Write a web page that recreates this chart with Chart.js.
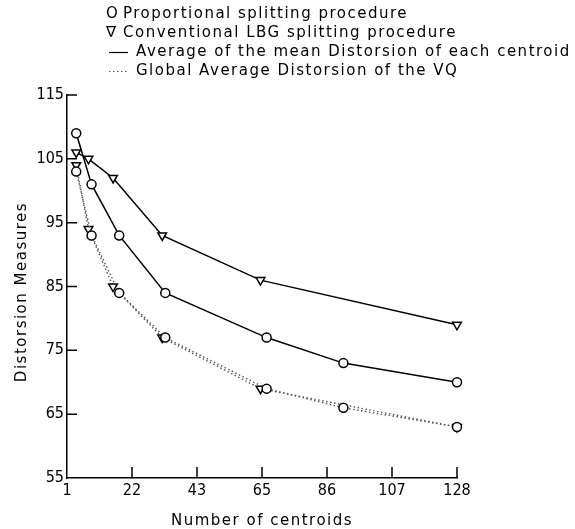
<!DOCTYPE html>
<html>
<head>
<meta charset="utf-8">
<script src="https://cdn.jsdelivr.net/npm/chart.js@4.4.1/dist/chart.umd.min.js"></script>
<style>
  html, body { margin: 0; padding: 0; background: #fff; }
  #wrap { width: 575px; height: 529px; }
</style>
</head>
<body>
<div id="wrap"><canvas id="c"></canvas></div>
<script>
// number of centroids at each measured point
const propX = [4, 9, 18, 33, 66, 91, 128];
const convX = [4, 8, 16, 32, 64, 128];
// average of the mean distorsion of each centroid (solid lines)
const propMean = [109, 101, 93, 84, 77, 73, 70];
const convMean = [106, 105, 102, 93, 86, 79];
// global average distorsion of the VQ (dotted lines)
const propGlobal = [103, 93, 84, 77, 69, 66, 63];
const convGlobal = [104, 94, 85, 77, 69, 63];

const xTickLabels = ['1', '22', '43', '65', '86', '107', '128'];
const legendLabels = [
  'Proportional splitting procedure',
  'Conventional LBG splitting procedure',
  'Average of the mean Distorsion of each centroid',
  'Global Average Distorsion of the VQ'
];
const xTitle = 'Number of centroids';
const yTitle = 'Distorsion Measures';

const TEXT_FONT = '15px "DejaVu Sans", sans-serif';
const TICK_FAMILY = '"Liberation Sans Narrow", "DejaVu Sans Condensed", "DejaVu Sans", sans-serif';
const DOTS = [1.5, 2.5];

const pts = (xs, ys) => xs.map((x, i) => ({ x, y: ys[i] }));

function series(data, marker, dotted) {
  return {
    data,
    borderColor: dotted ? '#555' : '#000',
    borderWidth: dotted ? 1.4 : 1.5,
    borderDash: dotted ? DOTS : [],
    tension: 0,
    clip: false,
    pointStyle: marker === 'tri' ? 'triangle' : 'circle',
    rotation: marker === 'tri' ? 180 : 0,
    pointRadius: marker === 'tri' ? 5 : 4.5,
    pointBackgroundColor: '#fff',
    pointBorderColor: '#000',
    pointBorderWidth: 1.5
  };
}

// inward tick marks, legend and axis titles
const decor = {
  id: 'decor',
  afterDraw(chart) {
    const { ctx, chartArea: a, scales: { x, y } } = chart;
    ctx.save();
    ctx.strokeStyle = '#000';
    ctx.lineWidth = 1.5;
    ctx.beginPath();
    x.ticks.forEach((t, i) => {
      if (i === 0) return;
      const px = x.getPixelForValue(t.value);
      ctx.moveTo(px, a.bottom);
      ctx.lineTo(px, a.bottom - 11);
    });
    y.ticks.forEach(t => {
      if (t.value === y.min) return;
      const py = y.getPixelForValue(t.value);
      ctx.moveTo(a.left, py);
      ctx.lineTo(a.left + 10, py);
    });
    ctx.stroke();

    ctx.fillStyle = '#000';
    ctx.font = TEXT_FONT;
    ctx.letterSpacing = '1.5px';
    ctx.textBaseline = 'middle';
    ctx.textAlign = 'left';
    const rowY = [14.5, 33.5, 52.5, 71.5];
    ctx.fillText('O', 106, rowY[0]);
    ctx.fillText('\u2207', 106, rowY[1]);
    ctx.fillText(legendLabels[0], 123, rowY[0]);
    ctx.fillText(legendLabels[1], 123, rowY[1]);
    ctx.lineWidth = 1.2;
    ctx.beginPath();
    ctx.moveTo(109, rowY[2]); ctx.lineTo(128, rowY[2]);
    ctx.stroke();
    ctx.strokeStyle = '#555';
    ctx.setLineDash(DOTS);
    ctx.beginPath();
    ctx.moveTo(109, rowY[3]); ctx.lineTo(128, rowY[3]);
    ctx.stroke();
    ctx.setLineDash([]);
    ctx.fillText(legendLabels[2], 136, rowY[2]);
    ctx.fillText(legendLabels[3], 136, rowY[3]);

    ctx.textAlign = 'center';
    ctx.fillText(xTitle, 262, 521);
    ctx.translate(22, 292);
    ctx.rotate(-Math.PI / 2);
    ctx.fillText(yTitle, 0, 0);
    ctx.restore();
  }
};

new Chart(document.getElementById('c'), {
  type: 'line',
  data: {
    datasets: [
      series(pts(propX, propMean), 'circle', false),
      series(pts(convX, convMean), 'tri', false),
      series(pts(propX, propGlobal), 'circle', true),
      series(pts(convX, convGlobal), 'tri', true)
    ]
  },
  options: {
    responsive: true,
    maintainAspectRatio: false,
    animation: false,
    layout: { padding: { top: 95, right: 118, left: 0, bottom: 0 } },
    plugins: { legend: { display: false }, tooltip: { enabled: false } },
    scales: {
      x: {
        type: 'linear',
        min: 1,
        max: 128,
        afterBuildTicks: s => {
          s.ticks = xTickLabels.map((_, i) => ({ value: 1 + i * 127 / 6 }));
        },
        afterFit: s => { s.height = 51; },
        ticks: {
          autoSkip: false,
          maxRotation: 0,
          padding: 3,
          color: '#000',
          font: { family: TICK_FAMILY, size: 16 },
          callback: (v, i) => xTickLabels[i]
        },
        grid: { display: false, drawTicks: false },
        border: { display: true, color: '#000', width: 1.5 }
      },
      y: {
        min: 55,
        max: 115,
        afterFit: s => { s.width = 67; },
        ticks: {
          stepSize: 10,
          padding: 3,
          color: '#000',
          font: { family: TICK_FAMILY, size: 16 }
        },
        grid: { display: false, drawTicks: false },
        border: { display: true, color: '#000', width: 1.5 }
      }
    }
  },
  plugins: [decor]
});
</script>
</body>
</html>
